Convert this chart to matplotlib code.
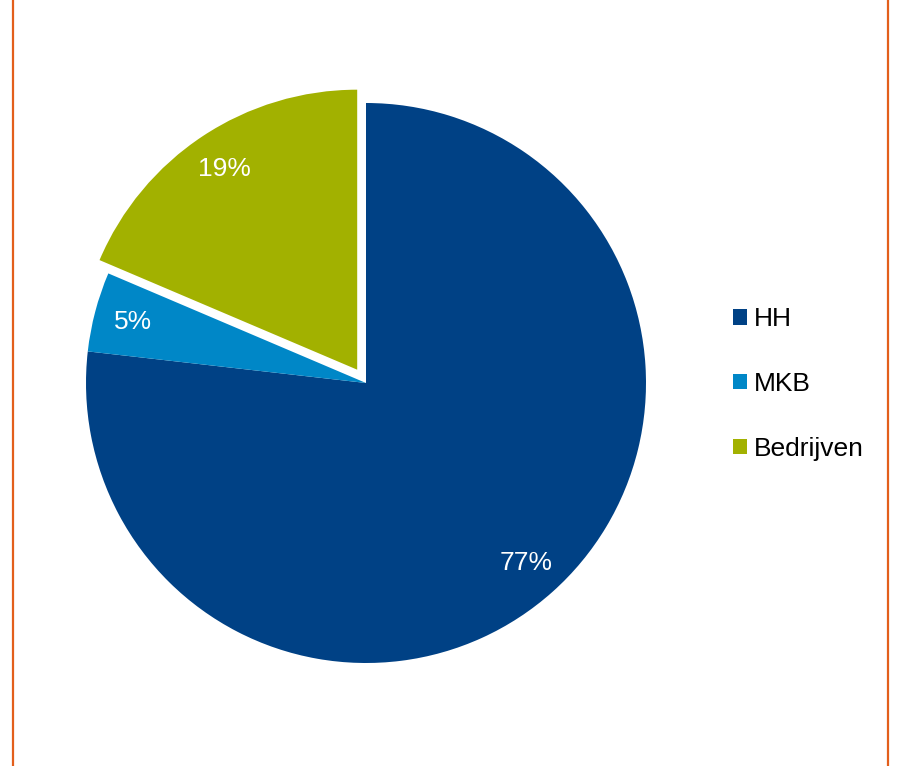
import matplotlib
matplotlib.use("Agg")
import matplotlib.pyplot as plt
from matplotlib.patches import Patch
from matplotlib.lines import Line2D

plt.rcParams["font.family"] = ["Liberation Sans", "DejaVu Sans"]

# Data
categories = ["HH", "MKB", "Bedrijven"]
shares = [76.8, 4.6, 18.6]
colors = ["#004185", "#0087C7", "#A2B100"]
explode = [0, 0, 0.057]

W, H = 897, 766
fig = plt.figure(figsize=(W / 100, H / 100), dpi=100)

# square axes centred on the pie centre (366, 383) px, radius 280 px
side = 600
cx, cy = 366, H - 383
ax = fig.add_axes([(cx - side / 2) / W, (cy - side / 2) / H, side / W, side / H])
ax.pie(
    shares,
    colors=colors,
    explode=explode,
    startangle=90,
    counterclock=False,
    autopct="%.0f%%",
    pctdistance=0.86,
    wedgeprops={"linewidth": 0},
    textprops={"color": "white", "fontsize": 19},
)
lim = side / 2 / 280
ax.set_xlim(-lim, lim)
ax.set_ylim(-lim, lim)
ax.set_aspect("equal")
ax.axis("off")

# Legend on the right
handles = [Patch(facecolor=c, edgecolor="none") for c in colors]
fig.legend(
    handles,
    categories,
    loc="center left",
    bbox_to_anchor=(733 / W, 1 - 384 / H),
    frameon=False,
    fontsize=19,
    handlelength=0.53,
    handleheight=0.53,
    handletextpad=0.27,
    labelspacing=1.54,
    borderpad=0,
    borderaxespad=0,
)

# Orange side borders
for x in (13, 888):
    fig.add_artist(Line2D([x / W, x / W], [0, 1], color="#E35F1C", lw=1.6,
                          transform=fig.transFigure))

fig.savefig("out.png", dpi=100)
